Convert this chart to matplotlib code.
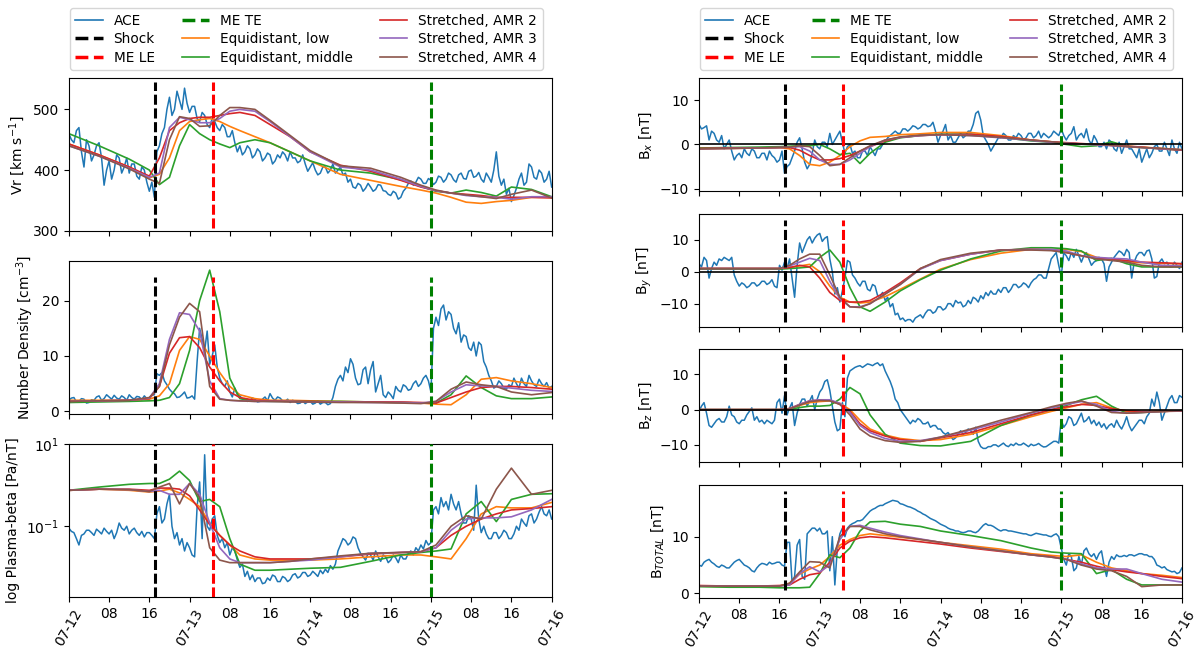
import numpy as np
import matplotlib
matplotlib.use("Agg")
import matplotlib.pyplot as plt
import matplotlib.dates as mdates
from matplotlib.lines import Line2D
from matplotlib.ticker import NullLocator

# time axes (hours after 2012-07-12 00:00)
ace_hours = np.arange(0, 96.5, 0.5)
model_hours = [0, 6, 12, 16, 18, 20, 22, 24, 26, 28, 30, 32, 34, 37, 40, 44,
               48, 54, 60, 66, 70, 73, 76, 79, 82, 85, 88, 92, 96]

event_labels = ["Shock", "ME LE", "ME TE"]
event_hours = [17.1, 28.7, 72.0]
event_colors = ["black", "red", "green"]

model_labels = ["Equidistant, low", "Equidistant, middle", "Stretched, AMR 2",
                "Stretched, AMR 3", "Stretched, AMR 4"]
model_colors = ["tab:orange", "tab:green", "tab:red", "tab:purple", "tab:brown"]

# ---- radial speed [km/s], ACE every 30 min
vr_ace = [460, 450, 445, 465, 470, 430, 405, 450, 440, 415, 425, 440, 445, 420, 375, 400,
          415, 385, 400, 425, 420, 395, 405, 420, 395, 410, 410, 390, 385, 405, 400, 380,
          365, 380, 355, 430, 440, 460, 470, 500, 520, 490, 500, 530, 515, 500, 535, 510,
          495, 505, 505, 485, 480, 495, 490, 475, 470, 485, 480, 470, 465, 475, 470, 455,
          455, 465, 445, 430, 440, 425, 430, 440, 435, 420, 425, 435, 430, 415, 420, 428,
          425, 410, 415, 425, 420, 430, 425, 415, 430, 420, 420, 412, 415, 425, 410, 398,
          405, 412, 400, 392, 395, 405, 405, 395, 400, 410, 395, 400, 405, 392, 395, 380,
          385, 372, 370, 378, 375, 365, 370, 378, 372, 365, 368, 376, 375, 366, 365, 360,
          358, 365, 362, 352, 355, 365, 370, 378, 382, 375, 380, 388, 385, 378, 378, 386,
          383, 376, 380, 390, 388, 380, 385, 395, 392, 384, 380, 392, 395, 386, 385, 398,
          400, 388, 390, 396, 385, 380, 395, 388, 380, 400, 430, 390, 375, 385, 360, 370,
          348, 358, 370, 385, 395, 375, 380, 410, 405, 388, 385, 400, 395, 380, 385, 398,
          372]
vr_low = [443, 425, 405, 387, 393, 420, 465, 480, 483, 485, 480, 472, 465, 455, 445,
          430, 415, 393, 383, 373, 367, 362, 355, 347, 345, 348, 350, 355, 355]
vr_mid = [460, 440, 418, 400, 376, 388, 440, 475, 460, 450, 443, 437, 445, 450, 445,
          430, 415, 400, 395, 384, 373, 365, 362, 367, 363, 357, 372, 368, 356]
vr_amr2 = [443, 425, 405, 390, 420, 465, 478, 485, 487, 487, 490, 493, 495, 490, 475,
           455, 430, 408, 398, 383, 372, 366, 362, 360, 358, 355, 355, 355, 354]
vr_amr3 = [440, 423, 403, 388, 395, 470, 487, 483, 478, 478, 485, 497, 500, 497, 480,
           455, 430, 405, 400, 385, 373, 366, 362, 358, 356, 355, 352, 356, 356]
vr_amr4 = [440, 423, 402, 385, 378, 450, 488, 485, 472, 473, 490, 503, 503, 500, 482,
           457, 432, 407, 403, 388, 375, 367, 362, 359, 356, 353, 360, 367, 354]

# ---- number density [cm^-3]
dens_ace = [2.0, 2.4, 2.5, 1.7, 1.8, 2.3, 2.2, 1.5, 1.6, 2.1, 2.0, 2.6, 2.8, 2.0, 2.3, 3.0,
            2.6, 2.2, 2.9, 2.4, 2.2, 2.8, 2.5, 2.0, 3.0, 2.5, 2.2, 2.7, 2.6, 2.1, 2.8, 2.3,
            2.4, 2.9, 3.0, 6.8, 6.5, 7.0, 5.5, 4.8, 4.0, 3.5, 3.2, 2.5, 2.6, 3.0, 3.5, 2.4,
            2.5, 2.8, 2.2, 9.0, 15.0, 13.0, 11.0, 14.5, 8.5, 10.0, 12.0, 8.0, 6.0, 5.0, 4.5, 5.5,
            3.5, 2.6, 4.2, 3.0, 2.8, 2.2, 2.3, 1.8, 2.0, 2.4, 2.2, 1.7, 1.8, 2.2, 2.6, 1.9,
            3.2, 2.4, 2.0, 2.6, 2.4, 1.9, 1.8, 2.2, 1.6, 2.0, 1.8, 1.4, 1.5, 1.9, 1.4, 1.7,
            1.8, 1.3, 1.5, 1.9, 1.3, 1.6, 1.6, 1.2, 1.4, 2.5, 4.5, 5.8, 6.5, 5.5, 8.0, 7.0,
            9.5, 8.5, 6.0, 4.8, 5.0, 7.5, 8.0, 5.0, 7.5, 9.0, 3.5, 5.0, 6.5, 3.0, 2.5, 3.5,
            3.0, 2.3, 4.5, 3.8, 3.5, 4.8, 4.5, 3.8, 4.0, 5.0, 5.5, 4.5, 5.0, 6.0, 6.5, 5.5,
            3.5, 15.0, 17.0, 15.5, 18.5, 19.2, 16.5, 18.0, 17.5, 15.0, 14.0, 16.0, 12.5, 13.8, 13.5, 11.5,
            11.0, 12.5, 10.0, 12.5, 12.0, 9.0, 8.0, 6.5, 5.5, 4.2, 4.5, 5.5, 5.0, 4.2, 4.0, 4.8,
            4.5, 6.0, 5.0, 4.2, 6.0, 5.0, 4.5, 6.5, 5.5, 4.8, 4.5, 5.8, 5.0, 4.5, 5.2, 4.2,
            4.5]
dens_low = [2.0, 2.0, 2.0, 2.2, 2.8, 5.0, 11.0, 13.5, 13.0, 10.0, 7.0, 4.5, 3.0, 2.3, 2.0,
            2.0, 1.9, 1.8, 1.7, 1.6, 1.5, 1.3, 1.2, 3.0, 5.8, 6.1, 5.5, 5.0, 4.3]
dens_mid = [1.6, 1.7, 1.8, 1.9, 2.0, 2.5, 5.0, 11.0, 20.0, 25.5, 18.0, 6.0, 2.3, 1.9, 1.8,
            1.8, 1.8, 1.8, 1.7, 1.6, 1.5, 1.5, 3.0, 6.4, 4.3, 2.8, 2.3, 2.3, 2.6]
dens_amr2 = [1.8, 1.9, 2.0, 2.3, 4.5, 10.5, 13.3, 13.5, 11.5, 8.0, 5.5, 3.5, 2.5, 2.0, 1.9,
             1.8, 1.8, 1.7, 1.7, 1.7, 1.6, 1.5, 2.5, 3.5, 4.3, 4.5, 4.5, 4.3, 4.0]
dens_amr3 = [1.8, 1.9, 2.0, 2.4, 5.0, 13.0, 17.8, 17.5, 14.5, 5.5, 2.3, 2.0, 1.9, 1.8, 1.8,
             1.8, 1.7, 1.7, 1.6, 1.6, 1.5, 1.8, 3.5, 4.8, 4.6, 4.5, 4.2, 3.8, 3.6]
dens_amr4 = [1.8, 1.9, 2.0, 2.5, 4.5, 12.0, 17.0, 19.5, 18.0, 4.5, 2.2, 2.0, 1.9, 1.8, 1.8,
             1.7, 1.7, 1.6, 1.6, 1.5, 1.4, 1.8, 4.0, 5.3, 4.8, 4.5, 3.5, 3.0, 3.4]

# ---- plasma beta
beta_ace = [0.09, 0.075, 0.07, 0.05, 0.035, 0.06, 0.065, 0.08, 0.08, 0.07, 0.06, 0.085, 0.075, 0.065, 0.09, 0.075,
            0.065, 0.08, 0.05, 0.07, 0.12, 0.09, 0.08, 0.1, 0.065, 0.08, 0.09, 0.07, 0.06, 0.075, 0.055, 0.07,
            0.07, 0.06, 0.05, 0.2, 0.3, 0.12, 0.15, 0.35, 0.6, 0.1, 0.05, 0.07, 0.035, 0.05, 0.025, 0.04,
            0.03, 0.02, 0.018, 0.3, 1.2, 0.05, 5.5, 0.1, 0.08, 0.15, 0.18, 0.06, 0.04, 0.05, 0.03, 0.04,
            0.02, 0.03, 0.025, 0.015, 0.01, 0.012, 0.006, 0.008, 0.005, 0.0065, 0.0045, 0.0055, 0.0055, 0.004, 0.0042, 0.0055,
            0.0048, 0.0065, 0.006, 0.0045, 0.0045, 0.006, 0.0055, 0.0045, 0.005, 0.0065, 0.007, 0.0055, 0.006, 0.0075, 0.0075, 0.006,
            0.0065, 0.008, 0.007, 0.006, 0.0085, 0.007, 0.009, 0.0075, 0.011, 0.009, 0.012, 0.025, 0.035, 0.05, 0.045, 0.035,
            0.04, 0.055, 0.05, 0.03, 0.022, 0.018, 0.015, 0.022, 0.02, 0.015, 0.025, 0.018, 0.014, 0.02, 0.018, 0.013,
            0.015, 0.02, 0.017, 0.013, 0.02, 0.016, 0.016, 0.022, 0.025, 0.02, 0.03, 0.025, 0.035, 0.028, 0.045, 0.035,
            0.04, 0.25, 0.3, 0.2, 0.5, 0.3, 0.4, 0.25, 0.6, 0.35, 0.25, 0.4, 0.2, 0.12, 0.12, 0.18,
            0.15, 0.08, 1.0, 0.15, 0.07, 0.1, 0.065, 0.05, 0.05, 0.07, 0.07, 0.05, 0.06, 0.08, 0.07, 0.05,
            0.05, 0.065, 0.1, 0.08, 0.15, 0.12, 0.1, 0.18, 0.2, 0.12, 0.15, 0.22, 0.3, 0.2, 0.18, 0.25,
            0.15]
beta_low = [0.75, 0.8, 0.75, 0.68, 0.72, 0.8, 0.65, 0.45, 0.3, 0.12, 0.06, 0.035, 0.02, 0.016, 0.015,
            0.015, 0.015, 0.016, 0.018, 0.02, 0.02, 0.018, 0.016, 0.05, 0.2, 0.3, 0.28, 0.28, 0.38]
beta_mid = [0.75, 0.9, 1.05, 1.1, 1.1, 1.4, 2.2, 1.3, 0.4, 0.45, 0.3, 0.05, 0.012, 0.0085, 0.0085,
            0.009, 0.0095, 0.01, 0.014, 0.02, 0.023, 0.025, 0.028, 0.2, 0.4, 0.13, 0.45, 0.6, 0.62]
beta_amr2 = [0.75, 0.8, 0.8, 0.75, 0.85, 0.85, 0.8, 0.55, 0.25, 0.11, 0.06, 0.035, 0.025, 0.018, 0.016,
             0.016, 0.016, 0.018, 0.021, 0.023, 0.024, 0.03, 0.06, 0.1, 0.15, 0.2, 0.25, 0.27, 0.3]
beta_amr3 = [0.75, 0.8, 0.78, 0.7, 0.75, 0.6, 0.6, 1.1, 0.6, 0.12, 0.03, 0.016, 0.013, 0.013, 0.013,
             0.014, 0.015, 0.018, 0.022, 0.023, 0.024, 0.03, 0.08, 0.15, 0.16, 0.16, 0.17, 0.25, 0.45]
beta_amr4 = [0.75, 0.8, 0.78, 0.7, 0.9, 1.1, 0.35, 1.1, 0.5, 0.03, 0.015, 0.013, 0.013, 0.013, 0.013,
             0.014, 0.016, 0.019, 0.022, 0.023, 0.024, 0.035, 0.1, 0.18, 0.15, 0.8, 2.6, 0.6, 0.75]

# ---- Bx [nT]
bx_ace = [4.5, 3.5, 3.8, 4.2, 1.0, 3.0, 2.5, 1.0, 0.5, 2.0, -1.0, 0.0, 1.0, -1.5, -3.5, -2.5,
          -2.0, -3.0, -1.0, -2.0, -2.5, -1.0, -1.5, -3.0, -3.0, -2.0, -2.0, -3.5, -1.5, -2.5, -3.0, -4.0,
          -3.5, -1.5, -6.5, -5.0, -4.5, -3.0, -1.5, 0.5, 1.5, -1.0, -4.0, -5.5, -4.5, -2.0, 1.0, -0.5,
          -1.0, 0.5, 0.5, -0.5, 2.5, 0.0, 1.0, 2.0, 3.0, 0.5, -2.0, -0.5, 0.0, -2.0, -1.5, -3.0,
          -3.0, -1.5, -1.5, -2.5, -0.5, -1.5, -2.5, -1.0, -1.0, 0.0, 0.5, 1.5, 2.0, 2.5, 3.0, 2.5,
          2.5, 3.5, 3.5, 3.0, 3.5, 4.2, 4.0, 3.5, 3.8, 4.5, 4.5, 4.0, 4.2, 5.0, 3.0, 0.5,
          2.0, 3.0, 4.5, 1.0, 2.0, 0.5, 0.5, 1.5, 2.5, 1.5, 2.0, 3.0, 3.0, 4.5, 7.0, 7.5,
          5.5, 2.0, 1.0, 0.0, -1.5, -0.5, 0.5, 1.5, 1.5, 2.5, 2.0, 1.0, 1.0, 2.0, 1.5, 2.5,
          2.0, 1.0, 1.5, 2.5, 2.5, 1.5, 2.0, 3.0, 1.5, 2.5, 2.0, 1.5, 2.0, 3.0, 2.5, 2.0,
          3.5, 2.0, 1.0, 2.0, 2.5, 4.0, 1.0, 2.0, 2.5, 1.5, 3.5, 1.0, 0.0, 2.0, 1.0, -0.5,
          -0.5, 0.5, -1.0, 1.0, 0.5, -1.0, -1.5, 0.5, -2.0, -0.5, 1.0, -1.0, -1.0, -2.0, -3.0, -1.0,
          -4.0, -2.5, -1.0, -3.0, -2.0, -0.5, 0.0, -1.5, -1.5, 0.5, -1.0, -2.5, 1.0, -1.0, -2.0, 0.5,
          -1.0]
bx_low = [-1.0, -0.9, -0.8, -0.7, -1.0, -2.5, -4.5, -4.8, -4.0, -2.5, -0.5, 0.8, 1.6, 1.8, 2.2,
          2.4, 2.7, 2.7, 2.0, 1.0, 0.6, 0.3, 0.1, 0.0, -0.2, -0.4, -0.6, -0.9, -1.2]
bx_mid = [-0.8, -0.7, -0.6, -0.5, -0.4, -0.3, -0.3, 0.0, -1.0, -2.3, -2.0, -4.3, -2.0, 0.5, 1.5,
          2.0, 2.3, 2.3, 1.6, 0.8, 0.5, 0.0, -0.5, -0.3, 0.6, -0.4, -0.7, -1.0, -1.3]
bx_amr2 = [-0.9, -0.8, -0.8, -0.7, -0.7, -1.3, -2.5, -3.5, -3.5, -3.2, -2.5, -1.5, -0.5, 0.8, 1.6,
           2.0, 2.2, 2.3, 1.8, 1.0, 0.6, 0.4, 0.2, 0.0, -0.2, -0.4, -0.6, -1.0, -1.3]
bx_amr3 = [-1.0, -0.9, -0.8, -0.7, -0.6, -0.5, -1.5, -3.5, -4.5, -4.5, -3.5, -2.0, -0.5, 1.0, 1.6,
           2.0, 2.2, 2.0, 1.5, 0.9, 0.5, 0.3, 0.1, -0.1, -0.3, -0.5, -0.7, -1.0, -1.2]
bx_amr4 = [-1.0, -0.9, -0.8, -0.7, -0.6, -0.3, -0.5, -2.5, -4.8, -4.5, -3.0, -1.5, -0.3, 1.0, 1.7,
           2.1, 2.2, 2.0, 1.6, 1.0, 0.6, 0.3, 0.1, 0.0, -0.2, -0.5, -0.7, -0.9, -1.2]

# ---- By [nT]
by_ace = [2.5, 1.5, 4.5, 3.5, -2.0, 1.0, 3.0, 2.0, 4.0, 3.5, 4.5, 4.0, 3.5, 4.5, -1.0, -3.0,
          -4.5, -3.5, -4.0, -5.0, -4.5, -3.5, -3.5, -4.5, -4.0, -3.0, -3.0, -4.0, -3.5, -2.5, -4.5, -5.0,
          2.0, 0.5, 3.0, 1.0, 4.0, -2.0, -8.0, 2.0, 9.0, 6.0, 8.0, 10.0, 11.0, 9.0, 10.5, 11.5,
          12.0, 9.5, 10.5, 11.0, 4.0, 0.0, -7.0, -5.0, -9.5, -6.0, -2.0, 3.5, 3.0, -1.0, -2.0, -3.5,
          -4.5, -3.0, -3.0, -5.5, -6.0, -4.0, -4.5, -7.5, -7.5, -6.5, -9.0, -8.0, -11.0, -10.0, -13.5, -13.0,
          -15.0, -14.5, -15.5, -15.0, -15.0, -15.8, -14.5, -14.0, -13.5, -14.5, -13.0, -12.0, -12.0, -13.0, -12.5, -11.0,
          -11.0, -12.0, -11.5, -10.0, -10.0, -11.0, -9.0, -9.8, -9.5, -11.0, -10.5, -9.0, -10.0, -8.0, -8.5, -9.5,
          -7.5, -8.5, -6.5, -7.5, -6.0, -7.0, -7.0, -5.5, -6.5, -5.0, -5.0, -6.5, -5.5, -4.0, -4.0, -5.0,
          -4.5, -3.5, -4.0, -5.0, -3.5, -2.5, -2.0, -1.0, -1.0, -2.0, -2.0, 1.0, 4.0, 5.0, 6.0, 2.0,
          -1.5, 6.0, 5.0, 3.5, 6.0, 4.5, 7.0, 5.0, 3.0, 5.0, 6.0, 4.0, 2.0, 3.0, 3.5, 4.5,
          4.0, 2.5, -3.0, 1.5, 3.0, 4.5, 5.5, 6.5, 6.0, 5.0, 7.0, 6.0, -2.0, 3.0, 5.0, 6.0,
          6.0, 5.0, 6.5, 6.8, 4.0, -2.0, -1.5, 3.0, 4.0, 2.5, 3.0, 1.5, 1.5, 3.0, 2.0, 1.0,
          3.0]
by_low = [1.0, 1.0, 1.0, 1.0, 1.3, 1.8, 2.3, 0.0, -4.5, -8.0, -9.5, -9.8, -9.5, -7.8, -5.5,
          -2.3, 0.8, 3.8, 5.8, 7.0, 7.0, 7.0, 6.3, 4.5, 3.8, 3.2, 2.8, 2.6, 2.5]
by_mid = [0.8, 0.8, 0.8, 0.8, 1.0, 1.2, 1.5, 4.5, 6.8, 3.0, -5.0, -11.0, -12.4, -9.5, -6.0,
          -2.5, 0.5, 4.0, 6.5, 7.5, 7.5, 7.2, 6.5, 3.5, 4.2, 2.5, 1.5, 1.5, 1.5]
by_amr2 = [1.0, 1.0, 1.0, 1.0, 1.3, 2.0, 1.5, -2.0, -6.5, -9.0, -9.5, -9.5, -9.0, -6.5, -3.5,
           1.0, 3.5, 5.5, 6.8, 7.0, 6.8, 6.0, 5.0, 4.3, 4.0, 3.5, 3.0, 2.8, 2.5]
by_amr3 = [1.0, 1.0, 1.0, 1.0, 1.8, 3.0, 4.2, 3.5, -3.0, -8.5, -11.0, -11.0, -10.0, -7.0, -4.0,
           0.8, 3.5, 5.5, 6.8, 7.0, 7.0, 6.5, 5.0, 4.5, 4.2, 4.0, 3.0, 2.0, 1.8]
by_amr4 = [1.0, 1.0, 1.0, 1.0, 2.0, 4.0, 5.5, 5.5, -1.0, -8.0, -11.0, -11.2, -10.0, -7.0, -4.0,
           1.0, 3.8, 5.8, 6.8, 6.8, 6.6, 6.0, 5.0, 4.0, 3.5, 3.0, 2.0, 1.5, 1.5]

# ---- Bz [nT]
bz_ace = [-0.5, 1.0, 2.0, -1.0, -4.5, -5.0, -4.0, -3.0, -2.5, -3.5, -3.5, -2.0, 1.0, -1.5, -2.0, -3.5,
          -4.0, -3.0, -3.0, -1.5, -0.5, 0.5, -3.0, -2.0, -3.5, -3.0, -4.0, -3.0, -3.5, -4.0, -3.0, 2.0,
          3.0, -1.0, 4.0, -1.5, 0.5, 2.0, -4.5, -1.0, 1.5, 3.0, 3.0, 1.0, 2.5, 4.0, 0.0, 3.0,
          5.0, 6.0, 8.0, 8.5, 5.5, 1.0, -3.5, -6.0, -5.5, 2.0, -2.0, 9.0, 11.0, 11.5, 12.0, 12.3,
          12.5, 12.0, 12.5, 13.0, 12.8, 12.5, 13.0, 13.3, 12.5, 13.0, 11.0, 9.5, 8.0, 6.0, 3.0, 2.0,
          0.0, -1.0, -2.0, -3.0, -4.0, -3.0, -3.5, -2.5, -3.0, -4.0, -4.0, -3.5, -5.0, -4.5, -4.5, -5.5,
          -5.5, -6.5, -7.0, -6.5, -7.5, -8.5, -8.0, -7.0, -6.0, -7.0, -6.5, -5.5, -6.0, -7.0, -5.0, -9.0,
          -10.5, -11.0, -11.0, -10.5, -10.5, -10.0, -10.0, -10.5, -10.0, -9.5, -10.2, -10.5, -9.8, -10.2, -9.5, -10.0,
          -10.0, -9.5, -10.0, -10.5, -9.8, -10.2, -10.0, -9.6, -10.2, -10.6, -10.5, -10.0, -9.5, -9.0, -9.0, -9.5,
          -3.0, -5.0, -4.0, -2.0, -2.5, -4.5, -4.0, -2.5, -1.0, -3.5, -3.0, -2.0, -4.0, -3.0, -4.5, -3.5,
          -5.0, -4.0, -5.5, -4.5, -4.0, -5.0, -3.0, -4.5, -5.5, -4.0, -2.0, -4.5, -6.0, -5.0, -4.0, -3.0,
          -3.0, -4.0, -2.0, -1.0, 3.0, 1.0, 5.0, 2.0, -3.0, -1.0, 1.0, 3.0, 4.0, 2.0, 2.0, 4.0,
          3.5]
bz_low = [0.0, 0.0, 0.0, 0.0, 0.3, 1.2, 2.0, 2.3, 2.5, 1.8, 0.0, -3.0, -5.5, -7.2, -8.2,
          -8.8, -8.5, -7.0, -4.5, -2.0, -0.5, 0.5, 1.5, 2.0, 0.5, -0.5, -0.6, -0.5, -0.3]
bz_mid = [0.0, 0.0, 0.0, 0.0, 0.1, 0.6, 1.0, 1.0, 1.2, 3.0, 6.3, 4.5, -1.5, -7.0, -9.5,
          -10.2, -10.3, -9.0, -4.5, -1.5, 0.0, 1.2, 2.8, 3.8, 1.0, -1.0, -0.8, -0.5, -0.3]
bz_amr2 = [0.0, 0.0, 0.0, 0.0, 0.3, 1.5, 2.5, 2.7, 2.7, 1.5, -0.5, -4.0, -6.0, -7.5, -8.5,
           -9.0, -8.0, -6.5, -4.0, -1.5, 0.0, 0.8, 1.5, 1.2, 0.3, -0.3, -0.5, -0.5, -0.4]
bz_amr3 = [0.0, 0.0, 0.0, 0.0, 0.2, 1.5, 2.5, 2.8, 2.8, 1.8, -0.8, -4.5, -6.5, -8.2, -9.0,
           -8.8, -7.8, -5.8, -3.5, -1.0, 0.5, 1.5, 2.3, 1.5, -0.5, -1.0, -0.8, -0.5, -0.3]
bz_amr4 = [0.0, 0.0, 0.0, 0.0, 0.2, 1.3, 2.3, 2.6, 2.5, 1.5, -1.5, -5.5, -7.5, -8.8, -9.3,
           -9.0, -7.8, -5.5, -3.0, -0.8, 0.8, 1.8, 2.5, 1.0, -0.8, -1.0, -0.8, -0.5, -0.3]

# ---- |B| [nT]
bt_ace = [5.0, 4.8, 5.5, 5.8, 6.0, 5.5, 5.2, 4.8, 4.6, 5.0, 4.8, 4.5, 4.5, 5.0, 5.5, 5.8,
          6.0, 5.5, 5.0, 4.8, 4.5, 4.0, 3.8, 4.5, 5.0, 5.3, 5.2, 5.0, 5.5, 5.2, 5.3, 5.5,
          5.5, 5.0, 4.8, 9.0, 9.0, 2.0, 3.0, 8.5, 9.5, 3.0, 2.5, 10.5, 11.0, 11.5, 11.5, 11.0,
          11.5, 10.5, 10.5, 11.0, 4.0, 10.0, 1.5, 8.0, 10.5, 11.5, 10.0, 11.5, 12.0, 12.3, 12.5, 12.8,
          12.8, 13.0, 13.5, 14.0, 14.5, 14.8, 15.0, 15.3, 15.5, 15.5, 15.8, 16.0, 16.2, 16.4, 16.3, 16.2,
          15.8, 15.7, 15.5, 15.3, 15.2, 15.0, 14.8, 14.5, 14.3, 14.0, 13.8, 13.5, 13.2, 13.0, 12.8, 12.5,
          12.2, 12.0, 11.8, 11.5, 11.3, 11.2, 11.0, 11.0, 10.8, 10.7, 10.8, 11.0, 11.0, 10.8, 10.7, 11.0,
          11.5, 12.0, 12.3, 12.0, 12.0, 11.8, 11.5, 11.2, 11.0, 11.2, 11.2, 11.0, 11.0, 10.9, 10.8, 10.7,
          10.6, 10.5, 10.5, 10.3, 10.2, 10.4, 10.6, 10.5, 10.4, 10.3, 10.3, 10.1, 10.0, 10.3, 10.5, 10.0,
          8.0, 6.0, 5.0, 7.0, 6.5, 4.0, 4.5, 6.5, 5.0, 7.5, 8.0, 7.0, 6.5, 7.0, 6.0, 7.0,
          7.5, 5.0, 3.0, 5.5, 6.5, 6.0, 6.8, 6.5, 6.5, 6.7, 6.5, 6.8, 6.8, 6.6, 6.8, 7.0,
          7.0, 6.8, 6.8, 6.5, 6.5, 6.0, 5.0, 4.8, 4.5, 4.7, 4.2, 4.0, 3.8, 3.9, 3.5, 3.7,
          4.5]
bt_low = [1.3, 1.2, 1.2, 1.3, 1.8, 3.4, 4.3, 5.0, 6.5, 8.5, 9.5, 10.2, 10.5, 10.2, 9.9,
          9.5, 9.0, 8.4, 7.8, 7.0, 6.7, 6.5, 6.8, 5.5, 4.5, 4.0, 3.5, 3.2, 2.8]
bt_mid = [1.2, 1.1, 1.1, 1.0, 1.0, 1.0, 1.1, 3.5, 6.8, 6.3, 8.0, 11.0, 12.6, 12.7, 12.2,
          11.8, 11.0, 10.2, 9.3, 8.0, 7.3, 7.1, 7.0, 3.5, 4.2, 2.5, 1.5, 1.5, 1.5]
bt_amr2 = [1.4, 1.3, 1.3, 1.4, 1.5, 2.5, 3.3, 3.6, 5.5, 8.0, 9.2, 9.8, 10.0, 9.8, 9.5,
           9.1, 8.7, 8.0, 7.4, 6.8, 6.5, 6.0, 5.5, 4.8, 4.2, 3.8, 3.5, 3.0, 2.6]
bt_amr3 = [1.3, 1.3, 1.3, 1.3, 1.5, 3.5, 4.7, 3.8, 5.0, 9.5, 11.8, 12.0, 11.5, 10.8, 10.2,
           9.6, 9.0, 8.2, 7.5, 6.8, 6.4, 6.0, 5.2, 4.5, 4.3, 4.3, 3.5, 2.5, 2.0]
bt_amr4 = [1.3, 1.3, 1.3, 1.3, 1.8, 3.8, 5.6, 5.5, 4.5, 10.0, 11.8, 11.8, 11.2, 10.5, 10.0,
           9.5, 9.0, 8.2, 7.5, 6.8, 6.4, 6.0, 5.0, 4.3, 4.0, 3.0, 1.2, 1.5, 1.5]

START = np.datetime64("2012-07-12T00:00")


def to_num(hours):
    minutes = np.round(np.asarray(hours, dtype=float) * 60).astype(int)
    return mdates.date2num(START + minutes * np.timedelta64(1, "m"))


t_ace = to_num(ace_hours)
t_model = to_num(model_hours)
t_events = to_num(event_hours)
tick_hours = list(range(0, 97, 8))
t_ticks = to_num(tick_hours)
tick_texts = ["07-%02d" % (12 + h // 24) if h % 24 == 0 else "%02d" % (h % 24)
              for h in tick_hours]

DASH = (0, (3.3, 1.2))


def draw_panel(ax, ace, models, ylabel, vspan, ylim, zero_line=False, log=False):
    ax.plot(t_ace, ace, color="tab:blue", lw=1.1)
    for vals, c in zip(models, model_colors):
        ax.plot(t_model, vals, color=c, lw=1.2)
    if zero_line:
        ax.axhline(0, color="black", lw=1.2)
    for te, c in zip(t_events, event_colors):
        ax.vlines(te, vspan[0], vspan[1], colors=c, linestyles=[DASH], lw=2.2, zorder=4)
    if log:
        ax.set_yscale("log")
    ax.set_ylim(*ylim)
    ax.set_xlim(t_ace[0], t_ace[-1])
    ax.set_ylabel(ylabel, fontsize=10)
    ax.set_xticks(t_ticks)
    ax.set_xticklabels(tick_texts)
    for lab, txt in zip(ax.get_xticklabels(), tick_texts):
        if "-" in txt:
            lab.set_rotation(60)
    ax.tick_params(labelsize=10)


fig = plt.figure(figsize=(12, 6.56), dpi=100)

# left column
lx, lw_, lh, lgap = 0.0574, 0.4023, 0.2330, 0.0457
left_bottoms = [0.0900 + 2 * (lh + lgap), 0.0900 + (lh + lgap), 0.0900]
ax_vr = fig.add_axes([lx, left_bottoms[0], lw_, lh])
ax_n = fig.add_axes([lx, left_bottoms[1], lw_, lh])
ax_b = fig.add_axes([lx, left_bottoms[2], lw_, lh])

draw_panel(ax_vr, vr_ace, [vr_low, vr_mid, vr_amr2, vr_amr3, vr_amr4],
           "Vr [km s$^{-1}$]", (305, 545), (299, 551))
ax_vr.set_yticks([300, 400, 500])
draw_panel(ax_n, dens_ace, [dens_low, dens_mid, dens_amr2, dens_amr3, dens_amr4],
           "Number Density [cm$^{-3}$]", (1.0, 24.2), (-0.5, 27.1))
ax_n.set_yticks([0, 10, 20])
draw_panel(ax_b, beta_ace, [beta_low, beta_mid, beta_amr2, beta_amr3, beta_amr4],
           "log Plasma-beta [Pa/nT]", (0.0019, 10), (0.0019, 10), log=True)
ax_b.set_yticks([0.1, 10])
ax_b.yaxis.set_minor_locator(NullLocator())

# right column
rx, rw, rh, rgap = 0.5825, 0.4025, 0.1723, 0.0343
right_bottoms = [0.0884 + k * (rh + rgap) for k in (3, 2, 1, 0)]
ax_bx = fig.add_axes([rx, right_bottoms[0], rw, rh])
ax_by = fig.add_axes([rx, right_bottoms[1], rw, rh])
ax_bz = fig.add_axes([rx, right_bottoms[2], rw, rh])
ax_bt = fig.add_axes([rx, right_bottoms[3], rw, rh])

draw_panel(ax_bx, bx_ace, [bx_low, bx_mid, bx_amr2, bx_amr3, bx_amr4],
           "B$_x$ [nT]", (-9.7, 13.7), (-10.6, 14.9), zero_line=True)
draw_panel(ax_by, by_ace, [by_low, by_mid, by_amr2, by_amr3, by_amr4],
           "B$_y$ [nT]", (-15.7, 16.3), (-17.3, 18.1), zero_line=True)
draw_panel(ax_bz, bz_ace, [bz_low, bz_mid, bz_amr2, bz_amr3, bz_amr4],
           "B$_z$ [nT]", (-13.3, 15.8), (-15.0, 17.1), zero_line=True)
draw_panel(ax_bt, bt_ace, [bt_low, bt_mid, bt_amr2, bt_amr3, bt_amr4],
           "B$_{TOTAL}$ [nT]", (0.6, 18.1), (-0.8, 19.1))
for ax in (ax_bx, ax_by, ax_bz):
    ax.set_yticks([-10, 0, 10])
ax_bt.set_yticks([0, 10])

for ax in (ax_vr, ax_n, ax_bx, ax_by, ax_bz):
    ax.tick_params(labelbottom=False)

# legends above each column
handles = [Line2D([], [], color="tab:blue", lw=1.2)]
handles += [Line2D([], [], color=c, ls="--", lw=2.5) for c in event_colors]
handles += [Line2D([], [], color=c, lw=1.2) for c in model_colors]
labels = ["ACE"] + event_labels + model_labels
for x0 in (0.0583, 0.5833):
    fig.legend(handles, labels, loc="lower left", bbox_to_anchor=(x0, 0.8933),
               ncol=3, fontsize=9.8, borderaxespad=0, labelspacing=0.32)

fig.savefig("out.png", dpi=100)
